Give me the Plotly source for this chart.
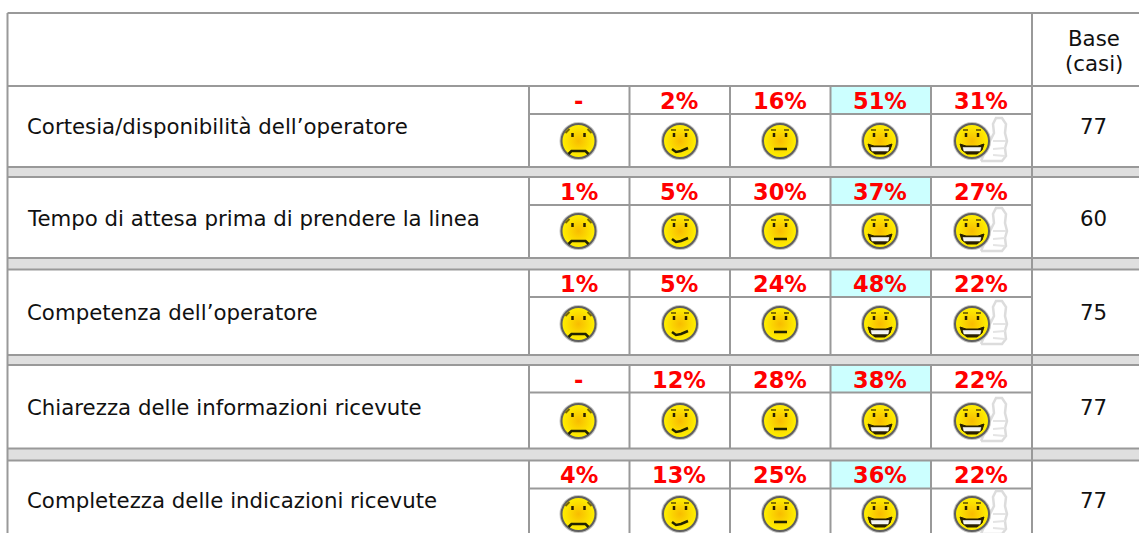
import plotly.graph_objects as go

# ---- data ----
categories = [
    "Cortesia/disponibilità dell’operatore",
    "Tempo di attesa prima di prendere la linea",
    "Competenza dell’operatore",
    "Chiarezza delle informazioni ricevute",
    "Completezza delle indicazioni ricevute",
]
rating_1 = ["-", "1%", "1%", "-", "4%"]
rating_2 = ["2%", "5%", "5%", "12%", "13%"]
rating_3 = ["16%", "30%", "24%", "28%", "25%"]
rating_4 = ["51%", "37%", "48%", "38%", "36%"]
rating_5 = ["31%", "27%", "22%", "22%", "22%"]
base_cases = [77, 60, 75, 77, 77]
base_header = ["Base", "(casi)"]

# ---- table layout (pixels of the page) ----
W, H = 1139, 533
LEFT, TOP, HEAD_BOTTOM = 7.5, 13, 86
COL_X = [529, 629.5, 730, 830.5, 931, 1032]
ROW_TOP = [86, 177, 269.5, 365, 460.5]
ROW_DIV = [114, 205, 297, 392.5, 488.5]
ROW_BOT = [167, 258, 355, 448.5, None]
FACE_Y = [141, 231, 324, 421, 514]
TEXT_Y = [126, 218, 312, 407, 500]
PCT_Y = [101, 192, 284, 380, 475]
LINE = "#999999"
BAND = "#dfdfdf"
HILITE = "#ccffff"

shapes = []


def rect(x0, y0, x1, y1, fill):
    shapes.append(dict(type="rect", xref="x", yref="y", x0=x0, y0=y0, x1=x1, y1=y1,
                       fillcolor=fill, line_width=0, layer="below"))


def line(x0, y0, x1, y1, color=LINE, width=2):
    shapes.append(dict(type="line", xref="x", yref="y", x0=x0, y0=y0, x1=x1, y1=y1,
                       line=dict(color=color, width=width), layer="below"))


for i in range(5):
    rect(COL_X[3], ROW_TOP[i], COL_X[4], ROW_DIV[i], HILITE)
    if ROW_BOT[i] is not None:
        rect(LEFT, ROW_BOT[i], W, ROW_TOP[i + 1], BAND)

line(LEFT, TOP, W, TOP)
line(LEFT, TOP, LEFT, H)
line(LEFT, HEAD_BOTTOM, W, HEAD_BOTTOM)
line(COL_X[5], TOP, COL_X[5], H)
for i in range(5):
    bottom = ROW_BOT[i] if ROW_BOT[i] is not None else H
    line(COL_X[0], ROW_DIV[i], COL_X[5], ROW_DIV[i])
    for cx in COL_X[:5]:
        line(cx, ROW_TOP[i], cx, bottom)
    if ROW_BOT[i] is not None:
        line(LEFT, ROW_BOT[i], W, ROW_BOT[i])
        line(LEFT, ROW_TOP[i + 1], W, ROW_TOP[i + 1])

annotations = []


def label(x, y, text, size=21.3, color="#111111", bold=False, xanchor="center"):
    annotations.append(dict(x=x, y=y, xref="x", yref="y", text=f"<b>{text}</b>" if bold else text,
                            showarrow=False, xanchor=xanchor, yanchor="middle",
                            font=dict(family="DejaVu Sans", size=size, color=color)))


label(1093.5, 38, base_header[0])
label(1093.5, 63, base_header[1])
ratings = [rating_1, rating_2, rating_3, rating_4, rating_5]
for i, name in enumerate(categories):
    label(24.5, TEXT_Y[i], name, xanchor="left")
    label(1093, TEXT_Y[i], base_cases[i])
    for j, col in enumerate(ratings):
        label((COL_X[j] + COL_X[j + 1]) / 2 - 0.5, PCT_Y[i], col[i], size=22.5, color="#ff0000", bold=True)

# ---- smiley drawing, offsets from face centre ----
FACE_X = [578.5, 680, 780, 880, 972]
EYES = [(-6, -8), (-6, -4), (6, -8), (6, -4)]
BROWS = {
    0: [[(-13, -8), (-9, -12)], [(9, -12), (13, -8)]],
    1: [[(-9, -11), (-4, -11)], [(4, -11), (9, -11)]],
    2: [[(-9, -11), (-4, -11)], [(4, -11), (9, -11)]],
}
MOUTH = {
    0: [(-10, 13), (-7, 10), (7, 10), (10, 13)],
    1: [(-8, 8), (-4, 11), (1, 10), (8, 7)],
    2: [(-6, 8), (7, 8)],
}
HAPPY_MOUTH = [(-12, 3), (-6, 5), (6, 5), (12, 3), (10, 9), (5, 13), (-5, 13), (-10, 9), (-12, 3)]
HAPPY_TEETH = [(-9, 6.5), (9, 6.5), (8, 10), (-8, 10), (-9, 6.5)]
THUMB = [(9, 20), (30, 20), (34, 15), (33, 7), (35, 0), (33, -8), (34, -17), (30, -23),
         (24, -23), (21, -17), (22, -8), (18, 0), (14, 8)]
THUMB_INNER = [[(21, 8), (33, 7)], [(21, 0), (34, 0)], [(21, 14), (33, 15)]]

traces = []


def poly(xs, ys, color, width, fill=None):
    traces.append(go.Scatter(x=xs, y=ys, mode="lines", hoverinfo="skip", showlegend=False,
                             line=dict(color=color, width=width, shape="linear"),
                             fill="toself" if fill else None, fillcolor=fill))


def offset(cx, cy, pts):
    return [cx + p[0] for p in pts], [cy + p[1] for p in pts]


for cy in FACE_Y:
    for kind, cx in enumerate(FACE_X):
        if kind == 4:
            poly(*offset(cx, cy, THUMB + THUMB[:1]), "#dcdcdc", 2.5, fill="#ffffff")
            for seg in THUMB_INNER:
                poly(*offset(cx, cy, seg), "#e4e4e4", 2)
        traces.append(go.Scatter(
            x=[cx], y=[cy], mode="markers", hoverinfo="skip", showlegend=False,
            marker=dict(symbol="circle", size=36, color="#aaaaaa", line=dict(color="#c4c4c4", width=2))))
        traces.append(go.Scatter(
            x=[cx], y=[cy], mode="markers", hoverinfo="skip", showlegend=False,
            marker=dict(symbol="circle", size=34, color="#fff200",
                        gradient=dict(type="radial", color="#f8bc00"),
                        line=dict(color="#5f5f5f", width=2))))
        for eye in (EYES[:2], EYES[2:]):
            poly(*offset(cx, cy, eye), "#2a2000", 2.5)
        if kind < 3:
            for b in BROWS[kind]:
                poly(*offset(cx, cy, b), "#776600", 1.8)
            poly(*offset(cx, cy, MOUTH[kind]), "#222200", 2.5)
        else:
            for b in BROWS[1]:
                poly(*offset(cx, cy, b), "#776600", 1.8)
            poly(*offset(cx, cy, HAPPY_MOUTH), "#2a2000", 1, fill="#2a2000")
            poly(*offset(cx, cy, HAPPY_TEETH), "#ffffff", 0.5, fill="#f4f4f4")

fig = go.Figure(traces)
fig.update_layout(
    width=W, height=H, margin=dict(l=0, r=0, t=0, b=0),
    paper_bgcolor="#ffffff", plot_bgcolor="#ffffff", showlegend=False,
    xaxis=dict(range=[0, W], visible=False, fixedrange=True),
    yaxis=dict(range=[H, 0], visible=False, fixedrange=True),
    shapes=shapes, annotations=annotations,
)
fig.write_html("out.html", config=dict(displayModeBar=False),
               post_script="document.body.style.margin='0';")
